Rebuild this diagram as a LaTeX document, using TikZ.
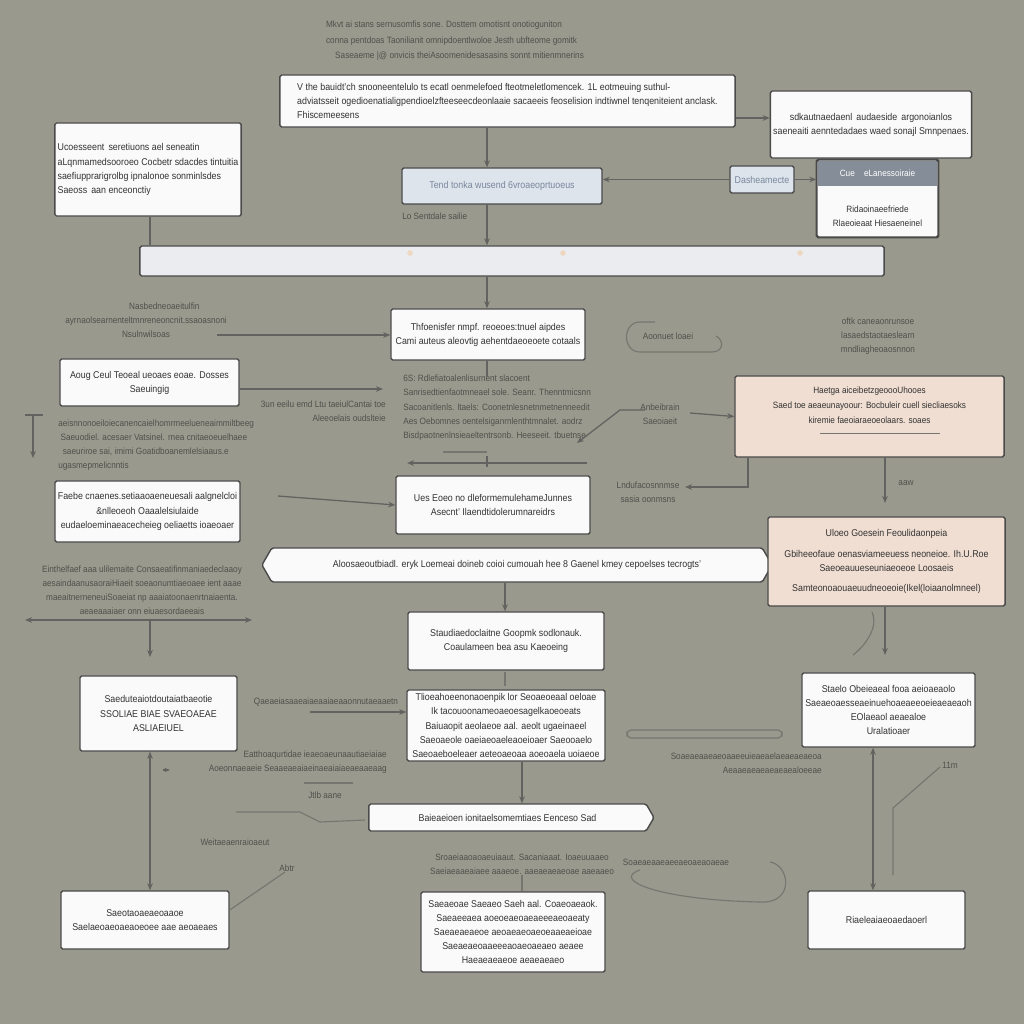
\documentclass[tikz,border=0pt]{standalone}
\usepackage{fontspec}
\setmainfont[FakeStretch=0.9]{Liberation Sans}
\usetikzlibrary{positioning,shapes.symbols,arrows.meta,shadows}
\definecolor{bgolive}{RGB}{154,153,141}
\definecolor{boxline}{RGB}{74,74,74}
\definecolor{boxfill}{RGB}{250,250,250}
\definecolor{peach}{RGB}{240,222,210}
\definecolor{paleblue}{RGB}{222,228,236}
\definecolor{barfill}{RGB}{234,236,240}
\definecolor{hdrband}{RGB}{132,141,152}
\definecolor{blueink}{RGB}{120,134,156}
\definecolor{inktext}{RGB}{50,50,50}
\definecolor{fadetext}{RGB}{80,80,76}
\definecolor{wirecol}{RGB}{98,98,96}

\newcommand{\boxfont}{\fontsize{7}{10}\selectfont}
\newcommand{\notefont}{\fontsize{6.5}{10}\selectfont}

\tikzset{
  box/.style={draw=boxline, fill=boxfill, line width=1pt, rounded corners=1.2pt,
    inner sep=2pt, align=center, text=inktext, font=\boxfont,
    drop shadow={opacity=0.2, shadow xshift=0.6pt, shadow yshift=-0.8pt}},
  peachbox/.style={box, fill=peach},
  bluebox/.style={box, fill=paleblue, text=blueink},
  banner/.style={box, signal, signal pointer angle=120},
  note/.style={text=fadetext, font=\notefont, align=center, inner sep=0pt},
  wire/.style={draw=wirecol, line width=0.9pt, -{Stealth[length=5pt,width=4pt]}},
  sketch/.style={draw=wirecol!65!bgolive, line width=0.8pt},
}

\begin{document}
\begin{tikzpicture}[x=0.025cm,y=-0.025cm]
\fill[bgolive] (0,0) rectangle (1024,1024);
\useasboundingbox (0,0) rectangle (1024,1024);

% guide columns
\coordinate (axis) at (487,0);
\coordinate (colL) at (150,0);
\coordinate (colR) at (873,0);

% top block
\node[note, align=left] (caption) at (455,41) {Mkvt ai stans sernusomfis sone. Dosttem omotisnt onotioguniton\\[1pt]
  conna pentdoas Taonilianit omnipdoentlwoloe Jesth ubfteome gomitk\\[1pt]
  \quad Saseaeme |@ onvicis theiAsoomenidesasasins sonnt mitienmnerins};
\node[box, align=left, minimum width=11.375cm, minimum height=1.3cm] (intro) at (507.5,101)
  {V the bauidt'ch snooneentelulo ts ecatl oenmelefoed fteotmeletlomencek. 1L eotmeuing suthul-\\
   adviatsseit ogedioenatialigpendioelzfteeseecdeonlaaie sacaeeis feoselision indtiwnel tenqeniteient anclask.\\
   Fhiscemeesens};
\node[box, align=left, minimum width=4.6cm, minimum height=2.325cm] (scope) at (148,169.5)
  {Ucoesseent\, seretiuons ael seneatin\\ aLqnmamedsooroeo Cocbetr sdacdes tintuitia\\
   saefiupprarigrolbg ipnalonoe sonminlsdes\\ Saeoss\, aan enceonctiy};
\node[box, minimum width=4.8cm, minimum height=1.675cm] (aside) at (871,124.5)
  {sdkautnaedaenl\, audaeside\, argonoianlos\\ saeneaiti aenntedadaes waed sonajl Smnpenaes.};
\node[bluebox, minimum width=5cm, minimum height=0.9cm] (trend) at (502,186) {Tend tonka wusend 6vroaeoprtuoeus};
\node[note, anchor=west] (trendtag) at (402,216) {Lo Sentdale sailie};
\node[bluebox, minimum width=1.6cm, minimum height=0.675cm] (dash) at (762,179.5) {Dasheamecte};
\node[box, minimum width=3.025cm, minimum height=1.925cm] (panel) at (877.5,198.5) {};
\fill[hdrband] (818,161) rectangle (937,186);
\draw[boxline, line width=1pt, rounded corners=1.2pt] (panel.north west) rectangle (panel.south east);
\node[note, text=white] (paneltitle) at (877.5,173.5) {Cue\quad eLanessoiraie};
\node[note, text=inktext] (panelbody) at (877.5,216) {Ridaoinaeefriede\\ Rlaeoieaat Hiesaeneinel};

\node[box, fill=barfill, minimum width=18.6cm, minimum height=0.75cm] (band) at (512,261) {};
\foreach \dx in {410,563,800}
  \fill[peach!70!orange, opacity=0.5] (\dx,253) circle (2pt);

\draw[wire] (intro.south -| axis) -- (trend.north -| axis);
\draw[wire] (trend.south -| axis) -- (band.north -| axis);
\coordinate (tie) at (0,118);
\draw[wire] (intro.east |- tie) -- (aside.west |- tie);
\draw[wire] (dash.west) -- (trend.east |- dash.west);
\draw[wire] (dash.east) -- (panel.west |- dash.east);
\draw[draw=wirecol, line width=0.9pt] (scope.south -| colL) -- (band.north -| colL);

% middle block
\node[box, minimum width=4.85cm, minimum height=1.275cm] (sieve) at (488,334.5)
  {Thfoenisfer nmpf. reoeoes:tnuel aipdes\\ Cami auteus aleovtig aehentdaeoeoete cotaals};
\draw[wire] (band.south -| axis) -- (sieve.north -| axis);
\node[box, minimum width=4.475cm, minimum height=1.175cm] (left1) at (149.5,382.5)
  {Aoug Ceul Teoeal ueoaes eoae. Dosses\\ Saeuingig};
\node[peachbox, minimum width=6.725cm, minimum height=2.025cm] (assay) at (869.5,416.5) {};
\node[note, text=inktext] (assaytxt) at (869.5,405)
  {Haetga aiceibetzgeoooUhooes\\[1pt] Saed toe aeaeunayoour: Bocbuleir cuell siecliaesoks\\ kiremie faeoiaraeoeolaars. soaes};
\draw[sketch, line width=0.4pt] (820,433) -- (940,433);
\node[box, minimum width=4.85cm, minimum height=1.45cm] (merge) at (493,505)
  {Ues Eoeo no dleformemulehameJunnes\\ Asecnt' Ilaendtidolerumnareidrs};
\node[box, minimum width=4.625cm, minimum height=1.525cm] (left2) at (147.5,511.5)
  {Faebe cnaenes.setiaaoaeneuesali aalgnelcloi\\ \&nlleoeoh Oaaalelsiulaide\\ eudaeloeminaeacecheieg oeliaetts ioaeoaer};
\node[banner, signal to=west and east, minimum width=12.75cm, minimum height=0.85cm] (spine) at (517,565)
  {Aloosaeoutbiadl. eryk Loemeai doineb coioi cumouah hee 8 Gaenel kmey cepoelses tecrogts'};
\node[peachbox, minimum width=5.925cm, minimum height=2.225cm] (review) at (886.5,561.5)
  {Uloeo Goesein Feoulidaonpeia\\[5pt] Gbiheeofaue oenasviameeuess neoneioe. Ih.U.Roe\\ Saeoeauueseuniaeoeoe Loosaeis\\[4pt] Samteonoaouaeuudneoeoie(Ikel(loiaanolmneel)};

\node[note] (nleft1) at (146,320) {\qquad\qquad Nasbedneoaeitulfin\\ ayrnaolsearnenteltmnreneoncnit.ssaoasnoni\\ Nsulnwilsoas};
\node[note] (nright1) at (878,336) {oftk caneaonrunsoe\\ lasaedstaotaeslearn\\ mndliagheoaosnnon};
\node[note] (nloop) at (668,336) {Aoonuet loaei};
\node[note, align=left, anchor=north west] (nsieve) at (403,375)
  {6S: Rdlefiatoalenlisurnent slacoent\\ Sanrisedtienfaotmneael sole. Seanr. Thenntmicsnn\\
   Sacoanitlenls. ltaels: Coonetnlesnetnmetnenneedit\\ Aes Oebomnes oentelsiganrnlenthtmnalet. aodrz\\
   Bisdpaotnenlnsieaeltentrsonb. Heeseeit. tbuetnse};
\node[note, align=right, anchor=east] (nmid1) at (386,411) {3un eeilu emd Ltu taeiulCantai toe\\ Aleeoelais oudslteie};
\node[note, align=left, anchor=west] (nleft2) at (58,445)
  {aeisnnonoeiloiecanencaielhomrmeelueneaimmiltbeeg\\ \ Saeuodiel. acesaer Vatsinel. rnea cnitaeoeuelhaee\\
   \ \ saeuriroe sai, imimi Goatidboanemlelsiaaus.e\\ ugasmepmelicnntis};
\node[note] (narrow) at (660,414) {Anbeibrain\\ Saeoiaeit};
\node[note] (nsmall1) at (648,492) {Lndufacosnnmse\\ sasia oonmsns};
\node[note] (nrightsm) at (906,483) {aaw};

\coordinate (c1) at (217,335);
\draw[wire] (c1) -- (sieve.west |- c1);
\coordinate (c2) at (383,389);
\draw[wire] (left1.east |- c2) -- (c2);
\coordinate (c3) at (278,496);
\draw[wire] (c3) -- (merge.west);
\draw[draw=wirecol, line width=0.9pt] (sieve.south -| axis) -- (487,377);
\coordinate (c4) at (587,463);
\coordinate (c5) at (407,463);
\draw[wire] (c4) -- (c5);
\draw[draw=wirecol, line width=0.9pt] (487,456) -- (487,467);
\draw[sketch] (443,452) -- (487,452);
\draw[sketch] (655,322) -- (640,322) .. controls (622,322) and (622,352) .. (640,352) -- (712,352) .. controls (724,352) and (724,340) .. (716,336);
\coordinate (c6) at (645,410);
\draw[wire] (c6) -- (620,410) -- (577,443);
\coordinate (c7) at (690,413);
\draw[wire] (c7) -- (assay.west);
\draw[wire] (assay.south -| 885,0) -- (885,503);
\draw[wire] (assay.south -| 748,0) -- (748,487) -- (685,487);
% bracket at the left edge
\draw[draw=wirecol, line width=0.9pt] (25,415) -- (43,415);
\draw[wire] (33,415) -- (33,458);

% lower block
\node[note] (nleft3) at (142,590)
  {Einthelfaef aaa ulilemaite Consaeatifinmaniaedeclaaoy\\ aesaindaanusaoraiHiaeit soeaonumtiaeoaee ient aaae\\
   maeaitnerneneuiSoaeiat np aaaiatoonaenrtnaiaenta.\\ aeaeaaaiaer onn eiuaesordaeeais};
\coordinate (c8) at (25,620);
\coordinate (c9) at (252,620);
\draw[wire, {Stealth[length=5pt,width=4pt]}-{Stealth[length=5pt,width=4pt]}] (c8) -- (c9);
\draw[wire] (colL |- c8) -- (150,657);

\node[box, minimum width=4.9cm, minimum height=1.45cm] (stage) at (506,641)
  {Staudiaedoclaitne Goopmk sodlonauk.\\ Coaulameen bea asu Kaeoeing};
\node[box, minimum width=3.925cm, minimum height=1.875cm] (left3) at (158.5,713.5)
  {Saeduteaiotdoutaiatbaeotie\\ SSOLIAE BIAE SVAEOAEAE\\ ASLIAEIUEL};
\node[box, minimum width=4.95cm, minimum height=1.775cm] (detail) at (506,725.5)
  {Tlioeahoeenonaoenpik lor Seoaeoeaal oeloae\\ Ik tacouoonameoaeoesagelkaoeoeats\\
   Baiuaopit aeolaeoe aal. aeolt ugaeinaeel\\ Saeoaeole oaeiaeoaeleaoeioaer Saeooaelo\\
   Saeoaeboeleaer aeteoaeoaa aoeoaela uoiaeoe};
\node[box, minimum width=4.325cm, minimum height=1.85cm] (right3) at (888.5,710)
  {Staelo Obeieaeal fooa aeioaeaolo\\ Saeaeoaesseaeinuehoaeaeeoeieaeaeaoh\\ EOlaeaol aeaealoe\\ Uralatioaer};
\node[banner, signal to=east, minimum width=7.125cm, minimum height=0.675cm] (outflow) at (507.5,817.5)
  {Baieaeioen ionitaelsomemtiaes Eenceso Sad};
\node[box, minimum width=4.2cm, minimum height=1.45cm] (base1) at (145,920)
  {Saeotaoaeaeoaaoe\\ Saelaeoaeoaeaoeoee aae aeoaeaes};
\node[box, minimum width=4.6cm, minimum height=2cm] (base2) at (513,932)
  {Saeaeoae Saeaeo Saeh aal. Coaeoaeaok.\\ Saeaeeaea aoeoeaeoaeaeeeaeoaeaty\\ Saeaeaeaeoe aeoaeaeoaeoeaaeaeioae\\
   Saeaeaeoaaeeeaoaeoaeaeo aeaee\\ Haeaeaeaeoe aeaeaeaeo};
\node[box, minimum width=3.925cm, minimum height=1.45cm] (base3) at (886.5,920) {Riaeleaiaeoaedaoerl};

\node[note] (nleft4) at (326,702) {Qaeaeiasaaeaiaeaaiaeaaonnutaeaaetn};
\node[note, align=right, anchor=east] (nleft5) at (387,762) {Eatthoaqurtidae ieaeoaeunaautiaeiaiae\\ Aoeonnaeaeie Seaaeaeaiaeinaeaiaiaeaeaaeaag};
\node[note] (nsmall2) at (325,795) {Jtlb aane};
\node[note] (nleft6) at (235,842) {Weitaeaenraioaeut};
\node[note] (nbase2) at (522,864) {Sroaeiaaoaoaeuiaaut. Sacaniaaat. Ioaeuuaaeo\\ Saeiaeaaeaiaee aaaeoe. aaeaeaeaeoae aaeaaeo};
\node[note] (nblob) at (676,862) {Soaeaeaaeaeeaeoaeaoaeae};
\node[note, align=right, anchor=east] (nright4) at (822,763) {Soaeaeaaeaeoaaeeuieaeaelaeaeaeaeoa\\ Aeaaeaeaeaeaeaealoeeae};
\node[note] (n11m) at (950,765) {11m};
\node[note] (nabr) at (287,868) {Abtr};

\draw[wire] (spine.south -| 505,0) -- (stage.north -| 505,0);
\draw[sketch] (505,672) -- (505,686);
\coordinate (c10) at (310,712);
\draw[wire] (c10) -- (detail.west |- c10);
\draw[wire, {Stealth[length=5pt,width=4pt]}-{Stealth[length=5pt,width=4pt]}] (left3.south -| colL) -- (base1.north -| colL);
\draw[wire, {Stealth[length=5pt,width=4pt]}-{Stealth[length=5pt,width=4pt]}] (right3.south -| colR) -- (base3.north -| colR);
\draw[wire] (detail.south -| 522,0) -- (outflow.north -| 522,0);
\draw[sketch] (nbase2.south -| 522,0) -- (base2.north -| 522,0);
\draw[wire] (review.south -| 885,0) -- (885,655);
\draw[sketch] (872,612) .. controls (880,630) and (860,650) .. (853,655);
\draw[sketch] (893,875) -- (893,808) -- (940,767);
\draw[sketch] (base1.east |- 0,910) -- (285,872);
\draw[sketch, rounded corners=3pt] (627,730) rectangle (782,738);
\draw[sketch] (304,783) -- (353,783);
\draw[sketch] (236,812) -- (300,812) -- (320,822) -- (365,820);
\draw[sketch] (640,870) .. controls (610,880) and (660,900) .. (760,902) .. controls (795,904) and (790,865) .. (770,862);
\draw[wire, -{Stealth[length=4pt,width=3pt]}] (163,770) -- (170,770);
\end{tikzpicture}
\end{document}
